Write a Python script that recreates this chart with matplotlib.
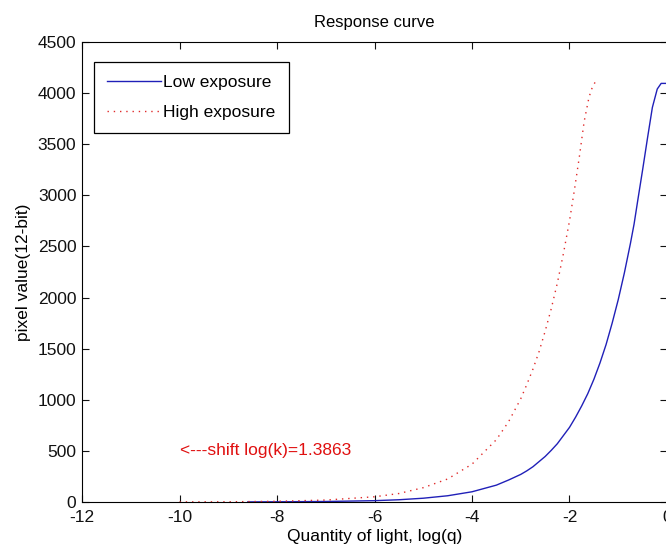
import matplotlib
matplotlib.use('Agg')
import matplotlib.pyplot as plt

plt.rcParams['font.family'] = ['Liberation Sans', 'DejaVu Sans']
plt.rcParams['axes.unicode_minus'] = False

# values
low_logq = [-8.6, -8.0, -7.0, -6.0, -5.5, -5.0, -4.5, -4.0, -3.5, -3.25, -3.0,
            -2.875, -2.75, -2.625, -2.5, -2.375, -2.25, -2.125, -2.0, -1.875,
            -1.75, -1.625, -1.5, -1.375, -1.25, -1.125, -1.0, -0.875, -0.75,
            -0.675, -0.6, -0.5, -0.4, -0.3, -0.2, -0.12, 0.0]
low_val = [1, 2, 5, 13, 22, 37, 61, 100, 165, 215, 270, 305, 345, 395, 445,
           505, 570, 650, 730, 830, 940, 1060, 1200, 1360, 1540, 1750, 1980,
           2240, 2530, 2720, 2950, 3250, 3560, 3860, 4040, 4095, 4095]

high_logq = [-10.0, -9.0, -8.0, -7.0, -6.0, -5.5, -5.0, -4.5, -4.0, -3.5, -3.25,
             -3.0, -2.875, -2.75, -2.625, -2.5, -2.375, -2.25, -2.125, -2.0,
             -1.9, -1.8, -1.7, -1.6, -1.53, -1.47]
high_val = [1, 2, 7, 19, 51, 83, 140, 225, 370, 610, 785, 1010, 1150, 1300,
            1470, 1670, 1890, 2140, 2430, 2750, 3050, 3370, 3720, 3960, 4060,
            4110]

shift_text = '<---shift log(k)=1.3863'
x_ticks = [-12, -10, -8, -6, -4, -2, 0]
y_ticks = list(range(0, 5000, 500))

fig = plt.figure(figsize=(6.66, 5.52), dpi=100)
ax = fig.add_axes([82/666, 50/552, 585/666, 460/552])

ax.plot(low_logq, low_val, color='#2020b8', linewidth=1.0, label='Low exposure')
ax.plot(high_logq, high_val, color='#e02a2a', linewidth=1.0,
        linestyle=(0, (1, 3.5)), label='High exposure')

ax.text(-10, 500, shift_text, color='#e01010', fontsize=12.5,
        ha='left', va='center')

ax.set_xlim(-12, 0)
ax.set_ylim(0, 4500)
ax.set_xticks(x_ticks)
ax.set_yticks(y_ticks)
ax.tick_params(direction='in', length=5, width=0.8, labelsize=12.5,
               top=True, right=True, pad=4, colors='#111111')
ax.tick_params(axis='x', pad=6)
for s in ax.spines.values():
    s.set_linewidth(0.8)

ax.set_title('Response curve', fontsize=12, pad=11)
ax.set_xlabel('Quantity of light, log(q)', fontsize=12.5, labelpad=3)
ax.set_ylabel('pixel value(12-bit)', fontsize=12.5, labelpad=5)

leg = ax.legend(loc='upper left', bbox_to_anchor=(12/585, 1 - 20/460),
                borderaxespad=0, fontsize=12.5, fancybox=False,
                edgecolor='black', framealpha=1, handlelength=3.1,
                handletextpad=0.15, borderpad=0.75, labelspacing=0.85)
leg.get_frame().set_linewidth(0.9)

fig.savefig('out.png', dpi=100)
